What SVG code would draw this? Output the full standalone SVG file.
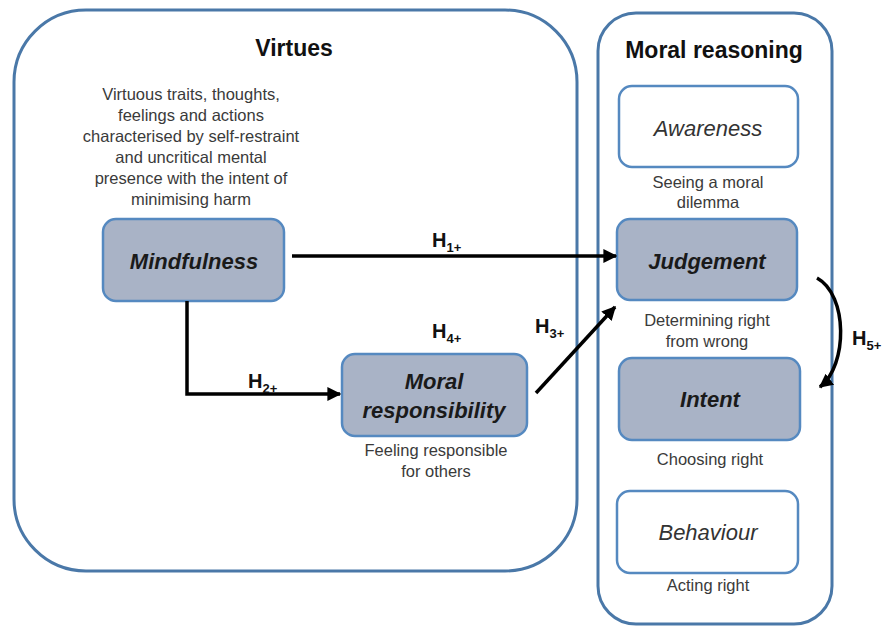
<svg xmlns="http://www.w3.org/2000/svg" width="885" height="627" viewBox="0 0 885 627">
<defs>
<style>
.container{fill:#ffffff;stroke:#4a78a8;stroke-width:3}
.node{fill:#a9b3c6;stroke:#5589c0;stroke-width:2.5}
.wnode{fill:#ffffff;stroke:#5589c0;stroke-width:2.5}
.title{font-family:"Liberation Sans",Arial,sans-serif;font-weight:bold;font-size:23px;fill:#111;text-anchor:middle}
.lbl{font-family:"Liberation Sans",Arial,sans-serif;font-weight:bold;font-style:italic;font-size:22px;fill:#1a1a1a;text-anchor:middle}
.wlbl{font-family:"Liberation Sans",Arial,sans-serif;font-style:italic;font-size:22px;fill:#333;text-anchor:middle}
.desc{font-family:"Liberation Sans",Arial,sans-serif;font-size:16.5px;fill:#3a3a3a;text-anchor:middle}
.h{font-family:"Liberation Sans",Arial,sans-serif;font-weight:bold;font-size:20px;fill:#111}
.sub{font-size:13px}
.conn{fill:none;stroke:#000;stroke-width:3.5}
</style>
<marker id="arr" viewBox="0 0 10 10" refX="9" refY="5" markerWidth="4" markerHeight="4" orient="auto" markerUnits="strokeWidth">
<path d="M0,0 L10,5 L0,10 z" fill="#000"/>
</marker>
</defs>
<rect width="885" height="627" fill="#ffffff"/>

<g id="virtues">
<rect class="container" x="14" y="10" width="563" height="561" rx="72" ry="72"/>
<text class="title" x="294" y="56">Virtues</text>
<text class="desc" x="191" y="100">Virtuous traits, thoughts,</text>
<text class="desc" x="191" y="121">feelings and actions</text>
<text class="desc" x="191" y="142">characterised by self-restraint</text>
<text class="desc" x="191" y="163">and uncritical mental</text>
<text class="desc" x="191" y="184">presence with the intent of</text>
<text class="desc" x="191" y="205">minimising harm</text>
</g>

<g id="moral-reasoning">
<rect class="container" x="598" y="13" width="234" height="611" rx="38" ry="38"/>
<text class="title" x="714" y="58">Moral reasoning</text>
</g>

<g id="mindfulness">
<rect class="node" x="103" y="219" width="181" height="82" rx="13"/>
<text class="lbl" x="194" y="269">Mindfulness</text>
</g>

<g id="moral-responsibility">
<rect class="node" x="342" y="354" width="185" height="82" rx="13"/>
<text class="lbl" x="434" y="389">Moral</text>
<text class="lbl" x="434" y="418">responsibility</text>
<text class="desc" x="436" y="456">Feeling responsible</text>
<text class="desc" x="436" y="477">for others</text>
</g>

<g id="awareness">
<rect class="wnode" x="619" y="86" width="179" height="81" rx="13"/>
<text class="wlbl" x="708" y="136">Awareness</text>
<text class="desc" x="708" y="188">Seeing a moral</text>
<text class="desc" x="708" y="208">dilemma</text>
</g>

<g id="judgement">
<rect class="node" x="617" y="219" width="180" height="81" rx="13"/>
<text class="lbl" x="707" y="269">Judgement</text>
<text class="desc" x="707" y="326">Determining right</text>
<text class="desc" x="707" y="347">from wrong</text>
</g>

<g id="intent">
<rect class="node" x="619" y="358" width="181" height="82" rx="13"/>
<text class="lbl" x="710" y="407">Intent</text>
<text class="desc" x="710" y="465">Choosing right</text>
</g>

<g id="behaviour">
<rect class="wnode" x="617" y="491" width="181" height="82" rx="13"/>
<text class="wlbl" x="708" y="540">Behaviour</text>
<text class="desc" x="708" y="591">Acting right</text>
</g>

<g id="connectors">
<line class="conn" x1="292" y1="256" x2="616" y2="256" marker-end="url(#arr)"/>
<polyline class="conn" points="187,301 187,394 340,394" marker-end="url(#arr)"/>
<line class="conn" x1="536" y1="393" x2="615" y2="307" marker-end="url(#arr)"/>
<path class="conn" d="M817,278 C848,295 848,365 820,387" marker-end="url(#arr)"/>
<text class="h" x="432" y="247">H<tspan class="sub" dy="5">1+</tspan></text>
<text class="h" x="248" y="388">H<tspan class="sub" dy="5">2+</tspan></text>
<text class="h" x="535" y="333">H<tspan class="sub" dy="5">3+</tspan></text>
<text class="h" x="432" y="338">H<tspan class="sub" dy="5">4+</tspan></text>
<text class="h" x="852" y="345">H<tspan class="sub" dy="5">5+</tspan></text>
</g>
</svg>
